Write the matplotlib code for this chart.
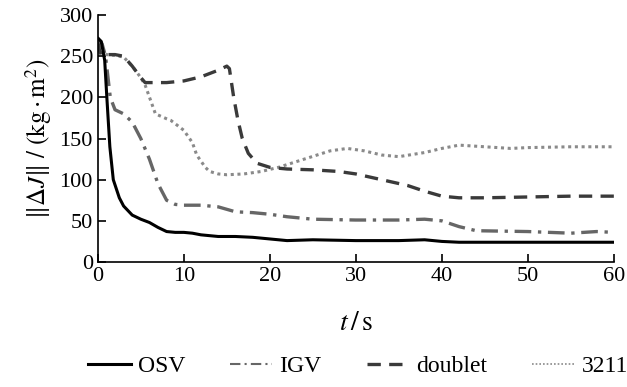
import matplotlib
matplotlib.use("Agg")
import matplotlib.pyplot as plt

# data
t_osv = [0, 0.4, 0.8, 1.05, 1.4, 1.8, 2.5, 3, 4, 5, 6, 7, 8, 9, 10, 11, 12, 14, 16, 18, 20, 22, 25, 30, 35, 38, 40, 42, 50, 60]
osv = [272, 268, 245, 200, 140, 100, 78, 68, 57, 52, 48, 42, 37, 36, 36, 35, 33, 31, 31, 30, 28, 26, 27, 26, 26, 27, 25, 24, 24, 24]

t_igv = [0, 0.5, 0.9, 1.45, 2, 3, 4, 5, 6, 7, 8, 9, 10, 12, 14, 16, 18, 20, 22, 25, 30, 35, 38, 40, 42, 44, 50, 55, 58, 60]
igv = [272, 265, 250, 200, 185, 180, 170, 150, 125, 95, 75, 70, 69, 69, 67, 61, 60, 58, 55, 52, 51, 51, 52, 50, 43, 38, 37, 35, 37, 36]

t_dbl = [0, 0.3, 1, 2, 3, 4, 5, 5.5, 8, 10, 12, 14, 15, 15.3, 15.8, 16.3, 16.8, 17.5, 18.5, 20, 22, 25, 28, 30, 33, 36, 38, 40, 42, 45, 50, 55, 60]
dbl = [268, 252, 252, 252, 250, 238, 224, 218, 218, 220, 225, 233, 238, 235, 200, 172, 150, 132, 120, 115, 113, 112, 110, 107, 100, 93, 86, 80, 78, 78, 79, 80, 80]

t_3211 = [0, 0.3, 1, 2, 3, 4, 5, 5.5, 6.7, 8, 8.5, 10, 11, 11.5, 12.5, 13, 14, 15, 17, 19, 21, 24, 27, 29, 31, 33, 35, 38, 40, 42, 45, 48, 50, 55, 60]
s3211 = [272, 254, 252, 251, 249, 238, 224, 215, 180, 174, 172, 160, 145, 130, 115, 110, 107, 106, 107, 110, 115, 125, 135, 138, 135, 130, 128, 133, 138, 142, 140, 138, 139, 140, 140]

plt.rcParams["font.family"] = "Liberation Serif"
plt.rcParams["mathtext.fontset"] = "stix"

fig = plt.figure(figsize=(6.27, 3.87), dpi=100)
ax = fig.add_axes([0.156, 0.323, 0.823, 0.638])

ax.plot(t_3211, s3211, color="#8a8a8a", lw=2.2, ls=(0, (1, 1.2)), label="3211")
ax.plot(t_dbl, dbl, color="#3a3a3a", lw=2.4, ls=(0, (4, 2.5)), label="doublet")
ax.plot(t_igv, igv, color="#666666", lw=2.4, ls=(0, (5, 2, 1, 2)), label="IGV")
ax.plot(t_osv, osv, color="black", lw=2.2, label="OSV")

ax.set_xlim(0, 60)
ax.set_ylim(0, 300)
ax.set_xticks(range(0, 61, 10))
ax.set_yticks(range(0, 301, 50))
ax.tick_params(direction="in", labelsize=16, length=6, width=1.2)
for s in ["top", "right"]:
    ax.spines[s].set_visible(False)
for s in ["left", "bottom"]:
    ax.spines[s].set_linewidth(1.2)

ax.set_xlabel(r"$t\,/\,\mathrm{s}$", fontsize=20, labelpad=18)
ax.set_ylabel(r"$\|\Delta J\|\ /\ (\mathrm{kg}\cdot\mathrm{m}^2)$", fontsize=18)

h, l = ax.get_legend_handles_labels()
order = [3, 2, 1, 0]
leg = fig.legend([h[i] for i in order], [l[i] for i in order], loc="lower center",
                 bbox_to_anchor=(0.571, -0.03), ncol=4, frameon=False, fontsize=17,
                 handlelength=1.8, columnspacing=1.9, handletextpad=0.3)
# thinner handles for the light series, as in the reference
leg.get_lines()[1].set_linewidth(1.5)
leg.get_lines()[3].set_linewidth(1.2)

fig.savefig("out.png", dpi=100)
